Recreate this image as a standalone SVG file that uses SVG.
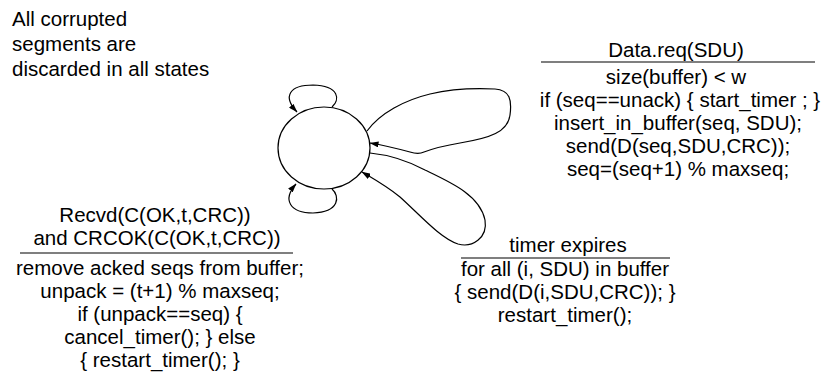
<svg xmlns="http://www.w3.org/2000/svg" width="824" height="383" viewBox="0 0 824 383">
<defs>
<style>
text{font-family:"Liberation Sans",Arial,Helvetica,sans-serif;font-size:20.5px;fill:#000}
.c{text-anchor:middle}
.e{fill:none;stroke:#000;stroke-width:1.2}
.r{stroke:#000;stroke-width:1.2}
</style>
<marker id="ah" markerWidth="9" markerHeight="6" refX="8.5" refY="3" orient="auto" markerUnits="userSpaceOnUse">
<path d="M0,0 L9,3 L0,6 Z" fill="#000"/>
</marker>
</defs>
<rect width="824" height="383" fill="#fff"/>
<g id="note">
<text x="12" y="26">All corrupted</text>
<text x="12" y="51">segments are</text>
<text x="12" y="76">discarded in all states</text>
</g>
<g id="state">
<ellipse cx="324" cy="148" rx="46" ry="41" fill="none" stroke="#000" stroke-width="1.2"/>
</g>
<g id="connectors">
<path class="e" marker-end="url(#ah)" d="M332,107 C340,100 340,86 313,85 C290,85 282,96 297,112"/>
<path class="e" marker-end="url(#ah)" d="M332,189 C340,196 340,212 313,213 C290,213 282,200 296,184"/>
<path class="e" marker-end="url(#ah)" d="M367,131 C380,113 405,100 430,94 C455,88 475,88 495,89 C510,90 512,100 510,115 C508,132 490,138 460,143 C442,146 432,149 424,152 C420,154 416,154 410,152 C395,148 382,145 370,143"/>
<path class="e" marker-end="url(#ah)" d="M370,153 C390,155 410,162 425,170 C450,182 480,195 485,220 C488,238 472,248 458,244 C440,238 420,215 400,197 C385,185 372,178 362,172"/>
</g>
<g id="label-data">
<text class="c" x="676" y="57">Data.req(SDU)</text>
<line class="r" x1="541" y1="62" x2="815" y2="62"/>
<text class="c" x="676" y="84">size(buffer) &lt; w</text>
<text class="c" x="680" y="107">if (seq==unack) { start_timer ; }</text>
<text class="c" x="678" y="130">insert_in_buffer(seq, SDU);</text>
<text class="c" x="678" y="153">send(D(seq,SDU,CRC));</text>
<text class="c" x="678" y="176">seq=(seq+1) % maxseq;</text>
</g>
<g id="label-recvd">
<text class="c" x="155" y="222">Recvd(C(OK,t,CRC))</text>
<text class="c" x="157" y="245">and CRCOK(C(OK,t,CRC))</text>
<line class="r" x1="20" y1="253" x2="293" y2="253"/>
<text class="c" x="160" y="275">remove acked seqs from buffer;</text>
<text class="c" x="160" y="298">unpack = (t+1) % maxseq;</text>
<text class="c" x="160" y="321">if (unpack==seq) {</text>
<text class="c" x="160" y="344">cancel_timer(); } else</text>
<text class="c" x="160" y="367">{ restart_timer(); }</text>
</g>
<g id="label-timer">
<text class="c" x="568" y="252">timer expires</text>
<line class="r" x1="461" y1="258" x2="670" y2="258"/>
<text class="c" x="565" y="276">for all (i, SDU) in buffer</text>
<text class="c" x="565" y="299">{ send(D(i,SDU,CRC)); }</text>
<text class="c" x="565" y="322">restart_timer();</text>
</g>
</svg>
